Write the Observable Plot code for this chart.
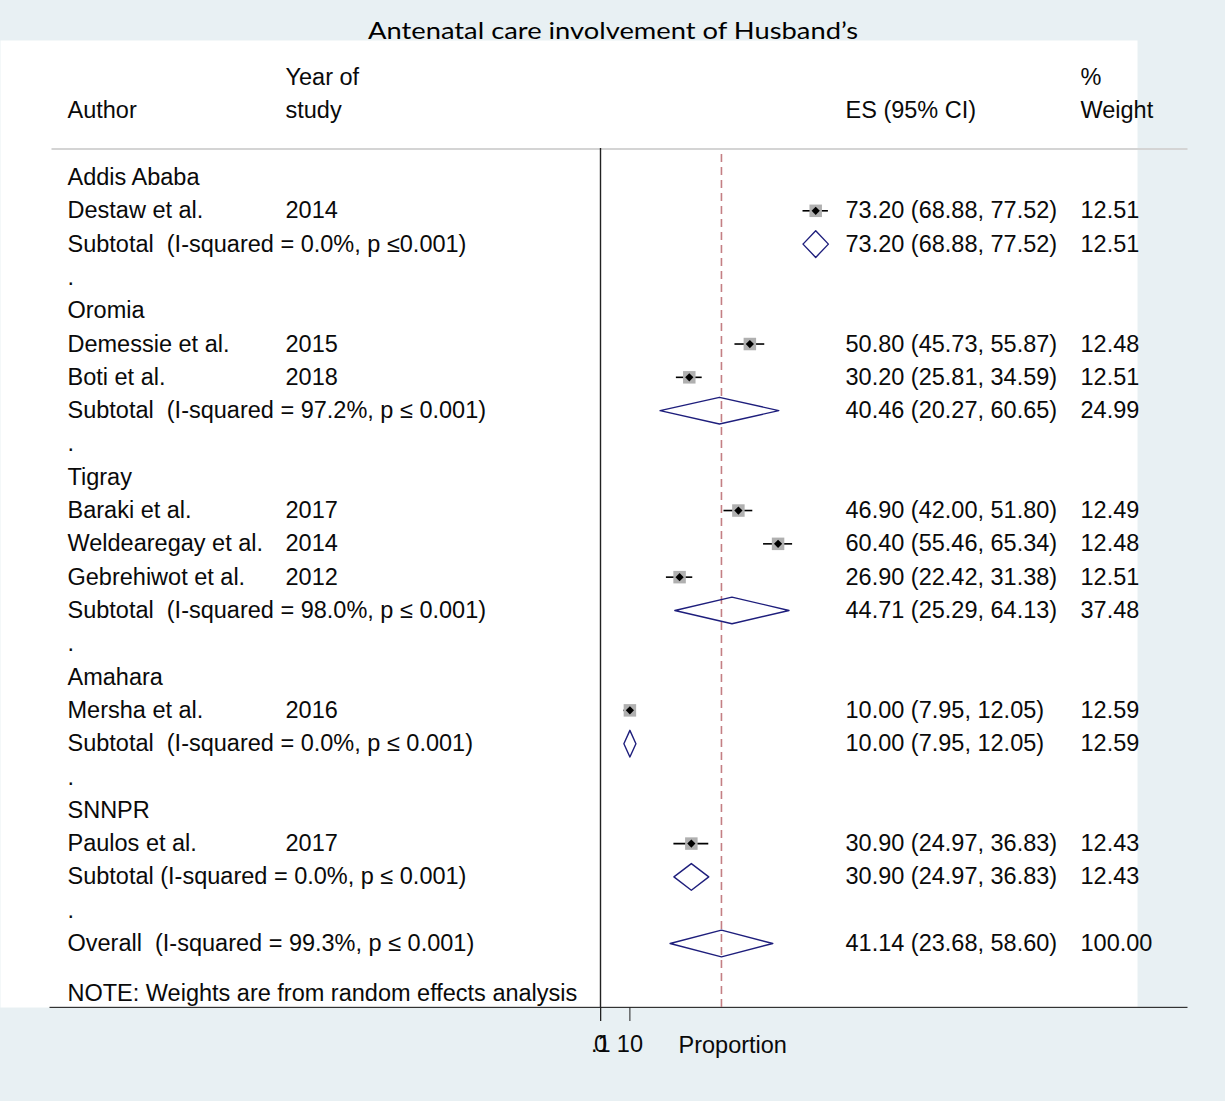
<!DOCTYPE html>
<html>
<head>
<meta charset="utf-8">
<script src="https://cdn.jsdelivr.net/npm/d3@7"></script>
<script src="https://cdn.jsdelivr.net/npm/@observablehq/plot@0.6"></script>
<style>
  html, body { margin: 0; padding: 0; background: #e8f0f3; }
  svg text { white-space: pre; }
</style>
</head>
<body>
<div id="chart"></div>
<script>
// ---------- data ----------
const title = "Antenatal care involvement of Husband’s";
const regions = ["Addis Ababa", "Oromia", "Tigray", "Amahara", "SNNPR"];

const authors = ["Destaw et al.", "Demessie et al.", "Boti et al.", "Baraki et al.",
                 "Weldearegay et al.", "Gebrehiwot et al.", "Mersha et al.", "Paulos et al."];
const years = [2014, 2015, 2018, 2017, 2014, 2012, 2016, 2017];
const studyRegion = [0, 1, 1, 2, 2, 2, 3, 4];
const es = [73.20, 50.80, 30.20, 46.90, 60.40, 26.90, 10.00, 30.90];
const lci = [68.88, 45.73, 25.81, 42.00, 55.46, 22.42, 7.95, 24.97];
const uci = [77.52, 55.87, 34.59, 51.80, 65.34, 31.38, 12.05, 36.83];
const weights = [12.51, 12.48, 12.51, 12.49, 12.48, 12.51, 12.59, 12.43];

const subLabels = [
  "Subtotal  (I-squared = 0.0%, p ≤0.001)",
  "Subtotal  (I-squared = 97.2%, p ≤ 0.001)",
  "Subtotal  (I-squared = 98.0%, p ≤ 0.001)",
  "Subtotal  (I-squared = 0.0%, p ≤ 0.001)",
  "Subtotal (I-squared = 0.0%, p ≤ 0.001)"
];
const subES = [73.20, 40.46, 44.71, 10.00, 30.90];
const subLci = [68.88, 20.27, 25.29, 7.95, 24.97];
const subUci = [77.52, 60.65, 64.13, 12.05, 36.83];
const subWeights = [12.51, 24.99, 37.48, 12.59, 12.43];

const overallLabel = "Overall  (I-squared = 99.3%, p ≤ 0.001)";
const overallES = 41.14, overallLci = 23.68, overallUci = 58.60, overallWeight = 100.00;

const note = "NOTE: Weights are from random effects analysis";
const headerTop = ["Year of", "%"];
const headerBottom = ["Author", "study", "ES (95% CI)", "Weight"];
const xTickValues = [0, 0.1, 10];
const xTickLabels = ["0", ".1", "10"];
const xLabel = "Proportion";

// ---------- build table rows ----------
const rows = [];
const studies = [];
const pools = [];
let r = 0;
regions.forEach((reg, g) => {
  rows.push({row: r++, label: reg});
  authors.forEach((a, i) => {
    if (studyRegion[i] !== g) return;
    const d = {row: r++, label: a, year: String(years[i]), es: es[i], lci: lci[i], uci: uci[i], w: weights[i]};
    rows.push(d); studies.push(d);
  });
  const s = {row: r++, label: subLabels[g], es: subES[g], lci: subLci[g], uci: subUci[g], w: subWeights[g]};
  rows.push(s); pools.push(s);
  rows.push({row: r++, label: "."});
});
const ov = {row: r++, label: overallLabel, es: overallES, lci: overallLci, uci: overallUci, w: overallWeight};
rows.push(ov); pools.push(ov);
const lastRow = ov.row;

const esRows = rows.filter(d => d.es !== undefined).map(d => ({
  row: d.row,
  ci: `${d.es.toFixed(2)} (${d.lci.toFixed(2)}, ${d.uci.toFixed(2)})`,
  w: d.w.toFixed(2)
}));

// diamond outlines
const H = 0.4; // half height, in rows
const diamondPts = [];
pools.forEach((p, k) => {
  [[p.lci, p.row], [p.es, p.row - H], [p.uci, p.row], [p.es, p.row + H], [p.lci, p.row]]
    .forEach(([x, y]) => diamondPts.push({id: k, x, y}));
});

const headerRowsTop = -3, headerRowsBottom = -2, noteRow = lastRow + 1.5;

const font = "'Liberation Sans', Arial, Helvetica, sans-serif";
const fs = 23.5;
const ink = "#0a0a0a";

const chart = Plot.plot({
  width: 1225,
  height: 1101,
  marginTop: 0, marginRight: 0, marginBottom: 94, marginLeft: 0,
  style: {background: "#e8f0f3", fontFamily: font, overflow: "visible"},
  x: {domain: [0, 100], range: [600, 894]},
  y: {domain: [0, lastRow], range: [177, 943], axis: null},
  marks: [
    Plot.text([title], {frameAnchor: "top", dy: 38.5, lineAnchor: "bottom", fontSize: 22.5,
      fontFamily: "Lato, 'Open Sans', sans-serif", fill: "#000"}),
    Plot.frame({fill: "white", stroke: null, insetTop: 40, insetRight: 88}),
    Plot.frame({fill: "#d4d4d4", stroke: null, insetTop: 147.5, insetBottom: 1007 - 149.5, insetLeft: 51, insetRight: 38}),
    Plot.frame({fill: "#333", stroke: null, insetTop: 1006.3, insetBottom: -0.5, insetLeft: 49, insetRight: 38}),
    Plot.ruleX([0], {insetTop: 148, stroke: "#222", strokeWidth: 1.4}),
    Plot.ruleX([overallES], {insetTop: 154, stroke: "#c47f84", strokeWidth: 1.6, strokeDasharray: "8,5"}),
    Plot.ruleY(studies, {y: "row", x1: "lci", x2: "uci", stroke: "#000", strokeWidth: 1.6}),
    Plot.dot(studies, {x: "es", y: "row", symbol: "square", r: 7.05, fill: "#b0b0b0", stroke: null}),
    Plot.dot(studies, {x: "es", y: "row", symbol: "diamond2", r: 3.7, fill: "#000", stroke: null}),
    Plot.line(diamondPts, {x: "x", y: "y", z: "id", stroke: "#1e1e7c", strokeWidth: 1.4, curve: "linear"}),
    Plot.text([headerTop[0]], {y: [headerRowsTop], frameAnchor: "left", dx: 285, textAnchor: "start", fontSize: fs, fill: ink}),
    Plot.text([headerTop[1]], {y: [headerRowsTop], frameAnchor: "left", dx: 1080, textAnchor: "start", fontSize: fs, fill: ink}),
    Plot.text([headerBottom[0]], {y: [headerRowsBottom], frameAnchor: "left", dx: 67, textAnchor: "start", fontSize: fs, fill: ink}),
    Plot.text([headerBottom[1]], {y: [headerRowsBottom], frameAnchor: "left", dx: 285, textAnchor: "start", fontSize: fs, fill: ink}),
    Plot.text([headerBottom[2]], {y: [headerRowsBottom], frameAnchor: "left", dx: 845, textAnchor: "start", fontSize: fs, fill: ink}),
    Plot.text([headerBottom[3]], {y: [headerRowsBottom], frameAnchor: "left", dx: 1080, textAnchor: "start", fontSize: fs, fill: ink}),
    Plot.text(rows, {y: "row", text: "label", frameAnchor: "left", dx: 67, textAnchor: "start", fontSize: fs, fill: ink}),
    Plot.text(studies, {y: "row", text: "year", frameAnchor: "left", dx: 285, textAnchor: "start", fontSize: fs, fill: ink}),
    Plot.text(esRows, {y: "row", text: "ci", frameAnchor: "left", dx: 845, textAnchor: "start", fontSize: fs, fill: ink}),
    Plot.text(esRows, {y: "row", text: "w", frameAnchor: "left", dx: 1080, textAnchor: "start", fontSize: fs, fill: ink}),
    Plot.text([note], {y: [noteRow], frameAnchor: "left", dx: 67, textAnchor: "start", fontSize: fs, fill: ink}),
    Plot.axisX({ticks: xTickValues, tickFormat: (d) => xTickLabels[xTickValues.indexOf(d)],
      tickSize: 14, tickPadding: 14, fontSize: fs, label: null, stroke: "#222", fill: ink}),
    Plot.text([xLabel], {frameAnchor: "bottom-left", dx: 678, dy: 45, textAnchor: "start", fontSize: fs, fill: ink})
  ]
});

chart.querySelectorAll("text").forEach(t => {
  if (t.textContent === title) {
    t.setAttribute("textLength", "490");
    t.setAttribute("lengthAdjust", "spacingAndGlyphs");
  }
});
document.getElementById("chart").appendChild(chart);
</script>
</body>
</html>
